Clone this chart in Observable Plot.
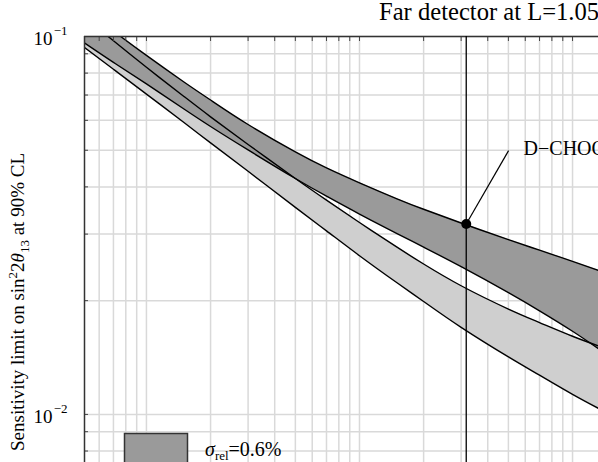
<!DOCTYPE html>
<html><head><meta charset="utf-8">
<script src="https://cdn.jsdelivr.net/npm/d3@7"></script>
<script src="https://cdn.jsdelivr.net/npm/@observablehq/plot@0.6"></script>
<style>
html,body{margin:0;padding:0;overflow:hidden;background:#fff;width:598px;height:462px;}
#wrap{position:relative;width:598px;height:462px;overflow:hidden;}
#chart{position:absolute;left:0;top:0;}
</style></head>
<body><div id="wrap"><div id="chart"></div></div>
<script>
// x sample positions (data units)
const xs = [0.5, 0.7, 1, 1.5, 2, 3, 5, 7, 10, 15, 20, 30, 50, 70, 100, 140];
// dark band (upper / lower edge)
const darkUpper = [0.1194, 0.1034, 0.0891, 0.0758, 0.0679, 0.0585, 0.0495, 0.0449, 0.0410, 0.0372, 0.0349, 0.0321, 0.0290, 0.0272, 0.0254, 0.0238];
const darkLower = [0.0970, 0.0854, 0.0749, 0.0643, 0.0578, 0.0501, 0.0421, 0.0378, 0.0339, 0.0301, 0.0277, 0.0246, 0.0210, 0.0188, 0.0166, 0.0146];
// light band (upper / lower edge)
const lightUpper = [0.1138, 0.0974, 0.0829, 0.0694, 0.0613, 0.0518, 0.0421, 0.0369, 0.0322, 0.0277, 0.0250, 0.0219, 0.0190, 0.0175, 0.0161, 0.0150];
const lightLower = [0.0944, 0.0819, 0.0704, 0.0592, 0.0523, 0.0440, 0.0353, 0.0306, 0.0263, 0.0223, 0.0199, 0.0170, 0.0142, 0.0127, 0.0113, 0.0102];
// gridlines / ticks
const xGrid = [0.6, 0.7, 0.8, 0.9, 1, 2, 3, 4, 5, 6, 7, 8, 9, 10, 20, 30, 40, 50, 60, 70, 80, 90, 100];
const yGrid = [0.008, 0.009, 0.01, 0.02, 0.03, 0.04, 0.05, 0.06, 0.07, 0.08, 0.09, 0.1];
const yLabelVals = [0.1, 0.01];
const yLabelExps = ["\u22121", "\u22122"];
// D-CHOOZ point and its label anchor
const marker = [{x: 31.7, y: 0.0319, lx: 50.1, ly: 0.0499, label: "D\u2212CHOOZ"}];
const titleText = "Far detector at L=1.05 km";
const legendValue = "=0.6%";
const xDomain = [0.512, 132.4];
const yDomain = [0.00746, 0.1];

const serif = "'Liberation Serif','Times New Roman',serif";
const rows = xs.map((x, i) => ({x, a: darkUpper[i], b: darkLower[i], c: lightUpper[i], d: lightLower[i]}));
const lineStyle = {x: "x", stroke: "black", strokeWidth: 1.4, curve: "natural", clip: true};

const chart = Plot.plot({
  width: 598, height: 462,
  marginLeft: 84, marginRight: 0, marginTop: 36, marginBottom: 0,
  style: {fontFamily: serif, fontSize: "19px", background: "white", color: "black"},
  x: {type: "log", domain: xDomain},
  y: {type: "log", domain: yDomain},
  marks: [
    Plot.gridX(xGrid, {stroke: "#d9d9d9", strokeOpacity: 1, strokeWidth: 1.5}),
    Plot.gridY(yGrid, {stroke: "#d9d9d9", strokeOpacity: 1, strokeWidth: 1.5}),
    Plot.areaY(rows, {x: "x", y1: "c", y2: "d", fill: "#cfcfcf", curve: "natural", clip: true}),
    Plot.areaY(rows, {x: "x", y1: "a", y2: "b", fill: "#9a9a9a", curve: "natural", clip: true}),
    Plot.line(rows, {...lineStyle, y: "a"}),
    Plot.line(rows, {...lineStyle, y: "b"}),
    Plot.line(rows, {...lineStyle, y: "c"}),
    Plot.line(rows, {...lineStyle, y: "d"}),
    Plot.axisX({anchor: "top", ticks: xGrid, tickSize: -4, tickFormat: () => "", stroke: "#444", label: null}),
    Plot.axisY({anchor: "left", ticks: yGrid, tickSize: -4, tickFormat: () => "", stroke: "#444", label: null}),
    Plot.ruleX([xDomain[0]], {stroke: "#333", strokeWidth: 1.5}),
    Plot.ruleY([yDomain[1]], {stroke: "#333", strokeWidth: 1.5}),
    Plot.ruleX(marker, {x: "x", stroke: "black", strokeWidth: 1.3}),
    Plot.link(marker, {x1: "x", y1: "y", x2: "lx", y2: "ly", stroke: "black", strokeWidth: 1.2}),
    Plot.dot(marker, {x: "x", y: "y", r: 5, fill: "black"}),
    Plot.text(marker, {x: "lx", y: "ly", text: "label", textAnchor: "start", dx: 15, dy: -2, fontSize: 20, fontFamily: serif}),
    Plot.text(yLabelVals, {y: d => d, frameAnchor: "left", text: () => "10", textAnchor: "end", dx: -32, dy: 2, fontSize: 19, fontFamily: serif}),
    Plot.text(yLabelVals, {y: d => d, frameAnchor: "left", text: (d, i) => yLabelExps[i], textAnchor: "end", dx: -17, dy: -6, fontSize: 13, fontFamily: serif})
  ]
});
document.getElementById("chart").appendChild(chart);
const svg = d3.select(chart);

// title (runs past the right edge, as in the reference)
svg.append("text")
  .attr("x", 379).attr("y", 20)
  .attr("text-anchor", "start")
  .attr("font-family", serif).attr("font-size", 24.6).attr("fill", "black")
  .text(titleText);

// y-axis title with super/subscripts
const yl = svg.append("text")
  .attr("transform", "translate(24,302) rotate(-90)")
  .attr("text-anchor", "middle")
  .attr("font-family", serif)
  .attr("font-size", 19)
  .attr("fill", "black");
yl.append("tspan").text("Sensitivity limit on sin");
yl.append("tspan").attr("dy", -7).attr("font-size", 13).text("2");
yl.append("tspan").attr("dy", 7).text("2");
yl.append("tspan").attr("font-style", "italic").text("\u03B8");
yl.append("tspan").attr("dy", 5).attr("font-size", 13).text("13");
yl.append("tspan").attr("dy", -5).text(" at 90% CL");

// legend
svg.append("rect")
  .attr("x", 124.5).attr("y", 433.5).attr("width", 63).attr("height", 40)
  .attr("fill", "#9a9a9a").attr("stroke", "#333").attr("stroke-width", 1.5);
const lg = svg.append("text")
  .attr("x", 205).attr("y", 456)
  .attr("text-anchor", "start")
  .attr("font-family", serif).attr("font-size", 20).attr("fill", "black");
lg.append("tspan").attr("font-style", "italic").text("\u03C3");
lg.append("tspan").attr("dy", 4).attr("font-size", 13).text("rel");
lg.append("tspan").attr("dy", -4).text(legendValue);
</script></body></html>
